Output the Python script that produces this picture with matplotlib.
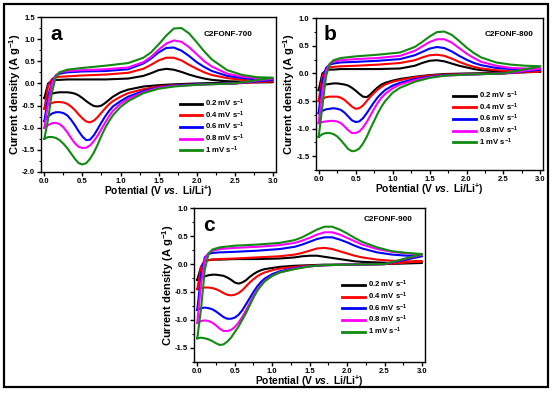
import numpy as np
import matplotlib
matplotlib.use("Agg")
import matplotlib.pyplot as plt
from matplotlib.patches import Rectangle
from matplotlib.ticker import MultipleLocator, FormatStrFormatter

plt.rcParams["font.family"] = ["Liberation Sans", "DejaVu Sans"]
plt.rcParams["font.weight"] = "bold"
plt.rcParams["mathtext.fontset"] = "custom"
plt.rcParams["mathtext.rm"] = "Liberation Sans:bold"
plt.rcParams["mathtext.it"] = "Liberation Sans:bold:italic"
plt.rcParams["mathtext.bf"] = "Liberation Sans:bold"

RATES = ["0.2", "0.4", "0.6", "0.8", "1"]
COLORS = ["black", "#ff0000", "#0000ff", "#ff00ff", "#108a10"]

# anodic sweep (0 -> 3 V) and cathodic sweep (3 -> 0 V) potentials
X_UP = [0.0, 0.05, 0.1, 0.15, 0.2, 0.3, 0.5, 0.8, 1.1, 1.3, 1.4, 1.5, 1.6, 1.7,
        1.8, 1.9, 2.0, 2.1, 2.2, 2.4, 2.6, 2.8, 3.0]
X_DOWN = [3.0, 2.5, 2.0, 1.7, 1.5, 1.3, 1.1, 1.0, 0.9, 0.85, 0.8, 0.75, 0.7, 0.65,
          0.6, 0.55, 0.5, 0.45, 0.4, 0.35, 0.3, 0.25, 0.2, 0.15, 0.1, 0.05, 0.0]

# C2FONF-700
a_up = [
    [-0.33, 0.0, 0.06, 0.08, 0.08, 0.09, 0.09, 0.09, 0.11, 0.17, 0.23, 0.3, 0.33, 0.31, 0.26, 0.2, 0.15, 0.11, 0.08, 0.05, 0.04, 0.03, 0.03],
    [-0.57, -0.05, 0.1, 0.14, 0.15, 0.16, 0.18, 0.2, 0.24, 0.33, 0.42, 0.52, 0.58, 0.58, 0.52, 0.42, 0.33, 0.25, 0.19, 0.12, 0.08, 0.06, 0.05],
    [-0.85, -0.3, 0.05, 0.18, 0.22, 0.25, 0.27, 0.28, 0.32, 0.45, 0.56, 0.7, 0.8, 0.81, 0.74, 0.62, 0.48, 0.37, 0.28, 0.17, 0.12, 0.09, 0.08],
    [-1.0, -0.45, 0.0, 0.18, 0.25, 0.28, 0.3, 0.32, 0.36, 0.48, 0.6, 0.76, 0.9, 0.97, 0.94, 0.82, 0.66, 0.5, 0.38, 0.22, 0.15, 0.12, 0.11],
    [-1.25, -0.8, -0.2, 0.15, 0.25, 0.31, 0.35, 0.4, 0.46, 0.58, 0.7, 0.88, 1.08, 1.24, 1.25, 1.13, 0.93, 0.72, 0.54, 0.3, 0.19, 0.14, 0.13],
]
a_down = [
    [0.03, 0.02, 0.0, -0.02, -0.04, -0.07, -0.14, -0.2, -0.3, -0.37, -0.44, -0.5, -0.52, -0.51, -0.46, -0.4, -0.33, -0.27, -0.23, -0.21, -0.2, -0.2, -0.2, -0.21, -0.23, -0.26, -0.33],
    [0.02, 0.0, -0.02, -0.04, -0.07, -0.13, -0.22, -0.3, -0.4, -0.47, -0.56, -0.66, -0.76, -0.84, -0.88, -0.86, -0.79, -0.7, -0.6, -0.52, -0.46, -0.43, -0.42, -0.42, -0.44, -0.48, -0.57],
    [0.03, 0.0, -0.02, -0.05, -0.09, -0.17, -0.3, -0.4, -0.52, -0.62, -0.74, -0.88, -1.03, -1.17, -1.27, -1.28, -1.2, -1.08, -0.94, -0.82, -0.72, -0.67, -0.65, -0.65, -0.68, -0.74, -0.85],
    [0.04, 0.0, -0.03, -0.06, -0.1, -0.2, -0.35, -0.46, -0.62, -0.74, -0.88, -1.03, -1.18, -1.3, -1.4, -1.45, -1.46, -1.43, -1.35, -1.23, -1.1, -0.99, -0.92, -0.89, -0.9, -0.94, -1.0],
    [0.05, 0.0, -0.03, -0.07, -0.12, -0.22, -0.4, -0.53, -0.72, -0.85, -1.0, -1.18, -1.38, -1.56, -1.7, -1.8, -1.83, -1.8, -1.7, -1.58, -1.46, -1.36, -1.28, -1.23, -1.21, -1.21, -1.25],
]

# C2FONF-800
b_up = [
    [-0.3, 0.0, 0.06, 0.07, 0.07, 0.08, 0.08, 0.08, 0.09, 0.14, 0.19, 0.23, 0.24, 0.22, 0.18, 0.14, 0.11, 0.08, 0.06, 0.04, 0.03, 0.03, 0.03],
    [-0.5, -0.05, 0.08, 0.11, 0.12, 0.13, 0.14, 0.16, 0.19, 0.24, 0.29, 0.33, 0.34, 0.32, 0.27, 0.21, 0.16, 0.12, 0.09, 0.06, 0.04, 0.04, 0.04],
    [-0.72, -0.15, 0.1, 0.16, 0.18, 0.2, 0.21, 0.23, 0.26, 0.33, 0.39, 0.45, 0.48, 0.46, 0.4, 0.32, 0.25, 0.19, 0.15, 0.1, 0.08, 0.07, 0.07],
    [-0.9, -0.3, 0.05, 0.18, 0.21, 0.24, 0.26, 0.28, 0.32, 0.41, 0.49, 0.57, 0.62, 0.62, 0.56, 0.46, 0.36, 0.28, 0.21, 0.14, 0.1, 0.09, 0.09],
    [-1.15, -0.6, -0.05, 0.17, 0.24, 0.28, 0.31, 0.34, 0.38, 0.48, 0.57, 0.67, 0.75, 0.76, 0.7, 0.59, 0.47, 0.37, 0.29, 0.2, 0.16, 0.14, 0.13],
]
b_down = [
    [0.02, 0.01, 0.0, -0.01, -0.03, -0.06, -0.1, -0.13, -0.17, -0.2, -0.25, -0.31, -0.38, -0.43, -0.42, -0.37, -0.31, -0.26, -0.22, -0.2, -0.19, -0.18, -0.18, -0.19, -0.2, -0.23, -0.3],
    [0.02, 0.0, -0.01, -0.02, -0.04, -0.07, -0.12, -0.15, -0.2, -0.24, -0.29, -0.35, -0.42, -0.5, -0.58, -0.63, -0.64, -0.6, -0.54, -0.48, -0.44, -0.42, -0.42, -0.42, -0.43, -0.46, -0.5],
    [0.03, 0.0, -0.02, -0.03, -0.06, -0.1, -0.17, -0.22, -0.3, -0.36, -0.43, -0.52, -0.62, -0.72, -0.81, -0.87, -0.88, -0.85, -0.78, -0.71, -0.66, -0.64, -0.63, -0.64, -0.65, -0.68, -0.72],
    [0.04, 0.0, -0.02, -0.04, -0.07, -0.12, -0.2, -0.27, -0.37, -0.44, -0.53, -0.64, -0.76, -0.88, -0.98, -1.05, -1.08, -1.08, -1.03, -0.96, -0.9, -0.87, -0.86, -0.86, -0.87, -0.88, -0.9],
    [0.05, 0.0, -0.02, -0.04, -0.08, -0.15, -0.26, -0.35, -0.5, -0.6, -0.72, -0.86, -1.0, -1.15, -1.27, -1.36, -1.4, -1.41, -1.37, -1.29, -1.21, -1.14, -1.1, -1.08, -1.08, -1.1, -1.15],
]

# C2FONF-900
c_up = [
    [-0.28, -0.05, 0.06, 0.07, 0.08, 0.08, 0.09, 0.09, 0.1, 0.12, 0.14, 0.15, 0.15, 0.13, 0.11, 0.09, 0.07, 0.05, 0.04, 0.03, 0.02, 0.02, 0.02],
    [-0.45, -0.05, 0.06, 0.07, 0.08, 0.09, 0.1, 0.12, 0.14, 0.17, 0.2, 0.24, 0.28, 0.29, 0.27, 0.23, 0.19, 0.15, 0.12, 0.08, 0.06, 0.05, 0.05],
    [-0.82, -0.2, 0.12, 0.18, 0.2, 0.21, 0.22, 0.24, 0.27, 0.31, 0.35, 0.4, 0.45, 0.48, 0.48, 0.44, 0.39, 0.33, 0.28, 0.21, 0.17, 0.15, 0.14],
    [-1.05, -0.35, 0.08, 0.2, 0.24, 0.27, 0.29, 0.31, 0.34, 0.38, 0.42, 0.47, 0.53, 0.57, 0.57, 0.53, 0.47, 0.41, 0.35, 0.27, 0.22, 0.19, 0.17],
    [-1.33, -0.8, -0.1, 0.18, 0.26, 0.3, 0.33, 0.35, 0.38, 0.43, 0.48, 0.55, 0.62, 0.67, 0.67, 0.62, 0.55, 0.47, 0.4, 0.3, 0.23, 0.2, 0.18],
]
c_down = [
    [0.01, 0.0, -0.01, -0.01, -0.02, -0.03, -0.05, -0.07, -0.09, -0.11, -0.14, -0.18, -0.23, -0.29, -0.33, -0.35, -0.33, -0.28, -0.24, -0.21, -0.2, -0.19, -0.19, -0.2, -0.22, -0.24, -0.28],
    [0.02, 0.0, -0.01, -0.02, -0.03, -0.05, -0.08, -0.11, -0.15, -0.18, -0.22, -0.27, -0.33, -0.4, -0.47, -0.52, -0.55, -0.56, -0.55, -0.52, -0.48, -0.45, -0.43, -0.42, -0.42, -0.43, -0.45],
    [0.05, 0.0, -0.01, -0.02, -0.04, -0.07, -0.13, -0.18, -0.26, -0.32, -0.4, -0.5, -0.61, -0.72, -0.83, -0.91, -0.96, -0.98, -0.98, -0.95, -0.9, -0.85, -0.81, -0.79, -0.78, -0.79, -0.82],
    [0.06, 0.0, -0.01, -0.02, -0.04, -0.08, -0.15, -0.21, -0.3, -0.37, -0.46, -0.57, -0.7, -0.83, -0.95, -1.05, -1.13, -1.18, -1.2, -1.2, -1.16, -1.1, -1.05, -1.02, -1.01, -1.02, -1.05],
    [0.06, 0.0, -0.01, -0.02, -0.04, -0.09, -0.15, -0.21, -0.31, -0.39, -0.48, -0.6, -0.74, -0.88, -1.0, -1.12, -1.22, -1.32, -1.39, -1.44, -1.45, -1.42, -1.38, -1.35, -1.33, -1.32, -1.33],
]

W, H = 554, 394
fig = plt.figure(figsize=(W / 100, H / 100), dpi=100)

# (left, right, top, bottom) in pixels, ylim, letter, sample, text positions, legend anchor
panels = [
    ((41.3, 275.9, 17.0, 172.0), (-2.0, 1.5), "a", "C2FONF-700", (0.9, 0.886), a_up, a_down, (0.573, 0.08)),
    ((315.7, 543.4, 18.3, 170.0), (-1.75, 1.0), "b", "C2FONF-800", (0.957, 0.894), b_up, b_down, (0.588, 0.122)),
    ((194.3, 425.0, 208.3, 361.7), (-1.75, 1.0), "c", "C2FONF-900", (0.947, 0.924), c_up, c_down, (0.625, 0.136)),
]

for (l, r, t, b), ylim, letter, sample, spos, ups, downs, anchor in panels:
    ax = fig.add_axes([l / W, (H - b) / H, (r - l) / W, (b - t) / H])
    for rate, col, yu, yd in zip(RATES, COLORS, ups, downs):
        xs = X_UP + X_DOWN[1:]
        ys = yu + yd[1:]
        ax.plot(xs, ys, color=col, lw=1.5, label=rate + r" mV s$^{-1}$")
    ax.set_xlim(-0.04, 3.04)
    ax.set_ylim(*ylim)
    ax.xaxis.set_major_locator(MultipleLocator(0.5))
    ax.xaxis.set_minor_locator(MultipleLocator(0.25))
    ax.yaxis.set_major_locator(MultipleLocator(0.5))
    ax.yaxis.set_minor_locator(MultipleLocator(0.25))
    ax.xaxis.set_major_formatter(FormatStrFormatter("%.1f"))
    ax.yaxis.set_major_formatter(FormatStrFormatter("%.1f"))
    ax.tick_params(which="major", direction="out", length=3, width=1, labelsize=5.5, pad=1.5)
    ax.tick_params(which="minor", direction="out", length=1.8, width=0.8)
    for s in ax.spines.values():
        s.set_linewidth(1.0)
    ax.set_xlabel(r"Potential (V $\it{vs.}$ Li/Li$^{+}$)", fontsize=7.4, fontweight="bold", labelpad=-1)
    ax.set_ylabel(r"Current density (A g$^{-1}$)", fontsize=8, fontweight="bold", labelpad=-0.5)
    ax.text(0.065, 0.89, letter, transform=ax.transAxes, fontsize=15, fontweight="bold",
            ha="center", va="center")
    ax.text(spos[0], spos[1], sample, transform=ax.transAxes, fontsize=5.9, fontweight="bold",
            ha="right", va="center")
    leg = ax.legend(loc="lower left", bbox_to_anchor=anchor, frameon=False, fontsize=5.6,
                    handlelength=2.9, handletextpad=0.4, labelspacing=0.05, borderpad=0)
    for ln in leg.get_lines():
        ln.set_linewidth(2)

fig.add_artist(Rectangle((4 / W, (H - 387) / H), 544 / W, 383 / H, transform=fig.transFigure,
                         fill=False, edgecolor="black", lw=1.6))

fig.savefig("out.png", dpi=100)
